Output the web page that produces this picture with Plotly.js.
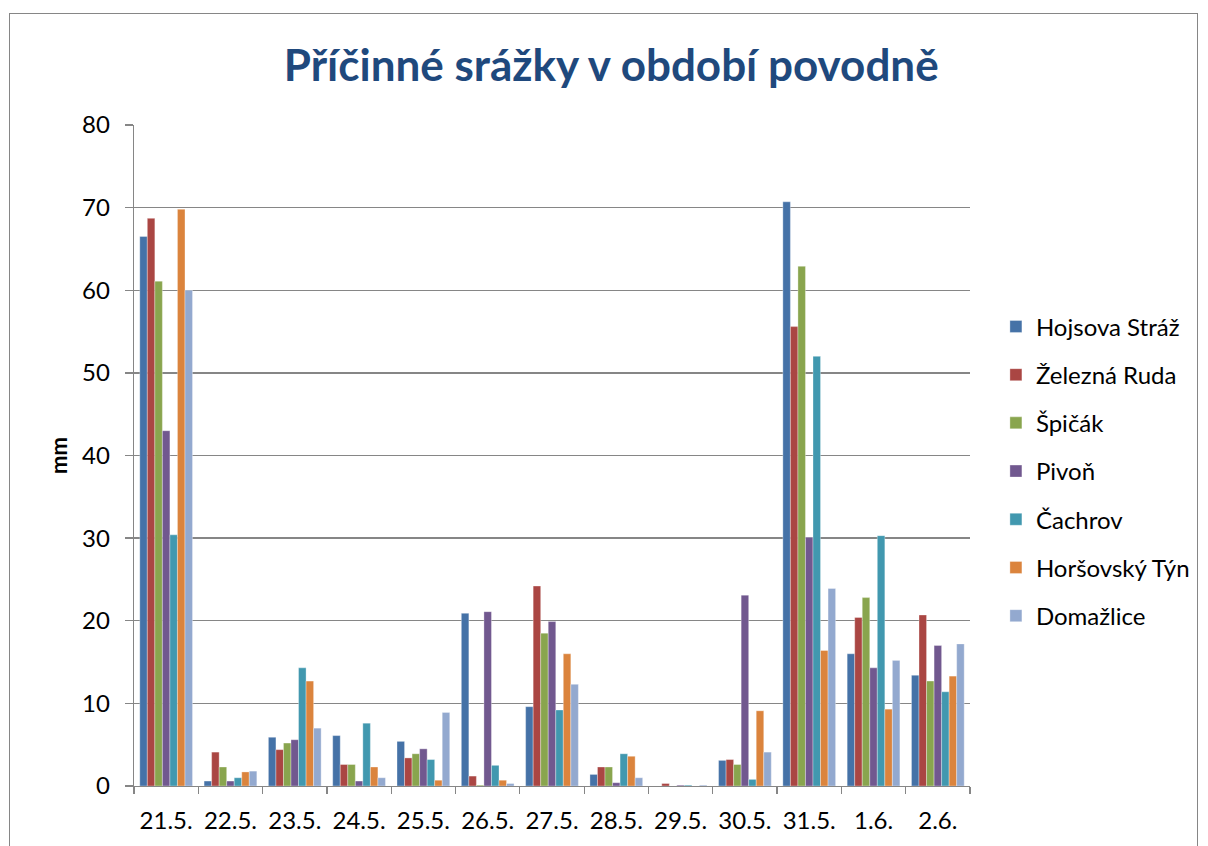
<!DOCTYPE html>
<html>
<head>
<meta charset="utf-8">
<script src="https://cdn.plot.ly/plotly-3.0.1.min.js"></script>
<style>
  html, body { margin: 0; padding: 0; background: #fff; }
  #wrap { position: relative; width: 1208px; height: 846px; overflow: hidden; }
  #frame { position: absolute; left: 9px; top: 13px; width: 1189px; height: 900px; border: 1px solid #868686; box-sizing: border-box; pointer-events: none; }
  #chart { position: absolute; left: 0; top: 0; width: 1208px; height: 846px; }
</style>
</head>
<body>
<div id="wrap">
  <div id="chart"></div>
  <div id="frame"></div>
</div>
<script>
const categories = ["21.5.", "22.5.", "23.5.", "24.5.", "25.5.", "26.5.", "27.5.", "28.5.", "29.5.", "30.5.", "31.5.", "1.6.", "2.6."];

const hojsovaStraz  = [66.5, 0.6, 5.9, 6.1, 5.4, 20.9, 9.6, 1.4, 0.0, 3.1, 70.7, 16.0, 13.4];
const zeleznaRuda   = [68.7, 4.1, 4.4, 2.6, 3.4, 1.2, 24.2, 2.3, 0.3, 3.2, 55.6, 20.4, 20.7];
const spicak        = [61.1, 2.3, 5.2, 2.6, 3.9, 0.1, 18.5, 2.3, 0.0, 2.6, 62.9, 22.8, 12.7];
const pivon         = [43.0, 0.6, 5.6, 0.6, 4.5, 21.1, 19.9, 0.4, 0.1, 23.1, 30.1, 14.3, 17.0];
const cachrov       = [30.4, 1.0, 14.3, 7.6, 3.2, 2.5, 9.2, 3.9, 0.1, 0.8, 52.0, 30.3, 11.4];
const horsovskyTyn  = [69.8, 1.7, 12.7, 2.3, 0.7, 0.7, 16.0, 3.6, 0.0, 9.1, 16.4, 9.3, 13.3];
const domazlice     = [60.0, 1.8, 7.0, 1.0, 8.9, 0.3, 12.3, 1.0, 0.1, 4.1, 23.9, 15.2, 17.2];

const seriesNames = ["Hojsova Stráž", "Železná Ruda", "Špičák", "Pivoň", "Čachrov", "Horšovský Týn", "Domažlice"];
const seriesValues = [hojsovaStraz, zeleznaRuda, spicak, pivon, cachrov, horsovskyTyn, domazlice];
const seriesColors = ["#4572A7", "#AA4643", "#89A54E", "#71588F", "#4198AF", "#DB843D", "#93A9CF"];

const FONT = "Lato, 'Open Sans', sans-serif";

const traces = seriesNames.map((name, i) => ({
  type: "bar",
  name: name,
  x: categories,
  y: seriesValues[i],
  legendgroup: "g" + i,
  marker: { color: seriesColors[i], line: { color: "rgba(255,255,255,0.55)", width: 0.6 } },
  hoverinfo: "x+y+name"
}));

const layout = {
  width: 1208,
  height: 846,
  margin: { l: 134, r: 238, t: 125, b: 60 },
  paper_bgcolor: "rgba(0,0,0,0)",
  plot_bgcolor: "#ffffff",
  barmode: "group",
  bargap: 0.18,
  bargroupgap: 0,
  title: {
    text: "<b>Příčinné srážky v období povodně</b>",
    font: { family: FONT, size: 44, color: "#1F497D" },
    x: 0.506, xanchor: "center",
    y: 0.923, yanchor: "middle"
  },
  xaxis: {
    type: "category",
    showline: true, linecolor: "#868686", linewidth: 1.3,
    ticks: "outside", tickson: "boundaries", ticklen: 7, tickcolor: "#868686", tickwidth: 1.3,
    tickfont: { family: FONT, size: 24, color: "#000" },
    ticklabelstandoff: 13,
    showgrid: false, zeroline: false, fixedrange: true
  },
  yaxis: {
    range: [0, 80],
    dtick: 10,
    showline: true, linecolor: "#868686", linewidth: 1.3,
    ticks: "outside", ticklen: 8, tickcolor: "#868686", tickwidth: 1.3,
    showgrid: true, gridcolor: "#868686", gridwidth: 1.3,
    zeroline: false,
    tickfont: { family: FONT, size: 24, color: "#000" },
    ticklabelstandoff: 10,
    title: { text: "<b>mm</b>", font: { family: FONT, size: 22, color: "#000" }, standoff: 8 },
    fixedrange: true
  },
  showlegend: true,
  legend: {
    x: 1.031, xanchor: "left",
    y: 0.476, yanchor: "middle",
    font: { family: FONT, size: 24, color: "#000" },
    traceorder: "grouped",
    tracegroupgap: 14,
    itemwidth: 30,
    bgcolor: "rgba(0,0,0,0)"
  }
};

Plotly.newPlot("chart", traces, layout, { displayModeBar: false, staticPlot: true });
</script>
</body>
</html>
